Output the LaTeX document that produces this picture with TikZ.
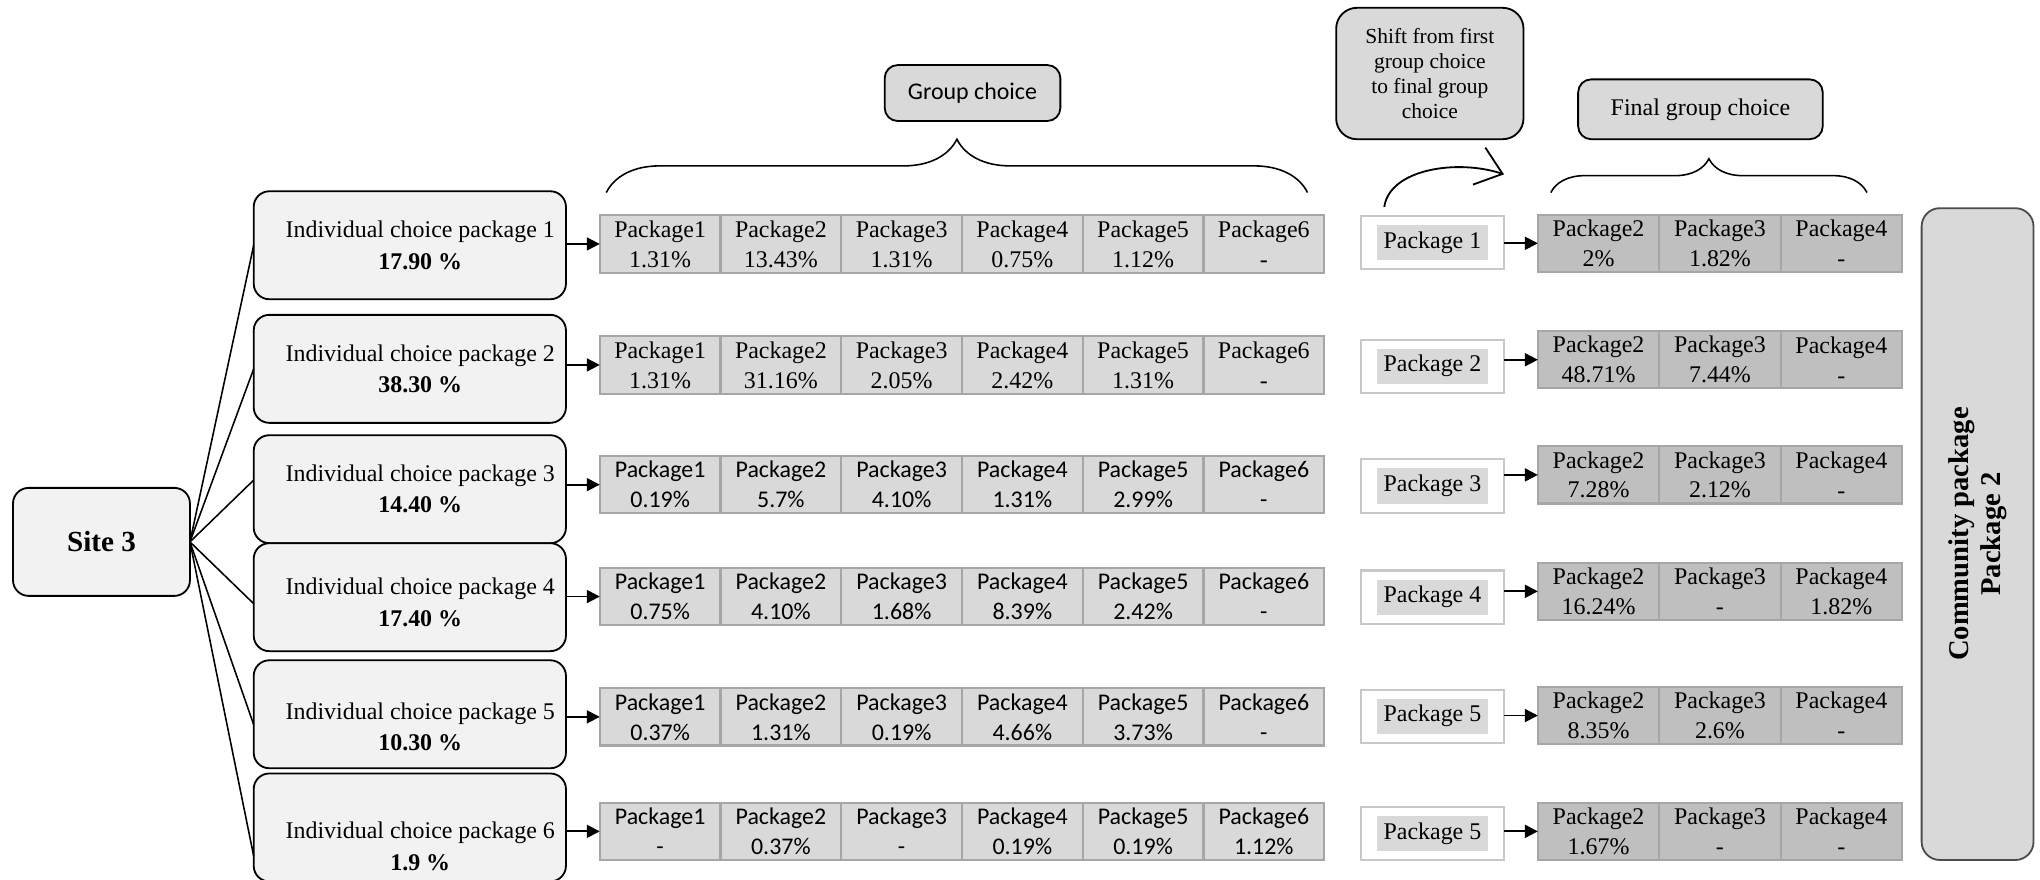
\documentclass[tikz,border=0pt]{standalone}
\usepackage{fontspec}
\setmainfont{Liberation Serif}
\newfontfamily\calibfont{Carlito}
\usetikzlibrary{arrows.meta,decorations.pathreplacing,positioning}
\definecolor{boxfill}{HTML}{F2F2F2}
\definecolor{cellfill}{HTML}{D9D9D9}
\definecolor{finalfill}{HTML}{BFBFBF}
\definecolor{cellline}{HTML}{A6A6A6}
\definecolor{midline}{HTML}{C8C8C8}
\setlength{\fboxsep}{2.6pt}
\begin{document}
\begin{tikzpicture}[
  x=0.5pt, y=-0.5pt,
  every node/.style={inner sep=0pt, outer sep=0pt},
  sitebox/.style={draw, line width=0.7pt, fill=boxfill, rounded corners=6pt, minimum width=68pt, minimum height=41.5pt, font=\fontsize{11.2}{13}\selectfont\bfseries},
  indbox/.style={draw, line width=0.7pt, fill=boxfill, rounded corners=6pt, minimum width=120pt, minimum height=41.5pt},
  indtext/.style={align=center, font=\fontsize{9.2}{12}\selectfont},
  cell/.style={draw=cellline, line width=0.8pt, fill=cellfill, minimum width=46.4pt, minimum height=22pt, align=center, font=\fontsize{9.2}{11.5}\selectfont},
  calibcell/.style={cell, font=\calibfont\fontsize{9.2}{11.5}\selectfont},
  fcell/.style={cell, fill=finalfill, minimum width=46.65pt},
  midbox/.style={draw=midline, line width=0.8pt, fill=white, minimum width=55pt, minimum height=20.5pt, font=\fontsize{9.2}{11}\selectfont},
  headbox/.style={draw, line width=0.7pt, fill=cellfill, rounded corners=5pt, align=center},
  arr/.style={-{Triangle[length=5pt,width=5pt]}, line width=0.7pt},
  link/.style={line width=0.6pt},
  grpbrace/.style={decorate, decoration={brace, amplitude=#1}, line width=0.6pt}
]
  \useasboundingbox (0,0) rectangle (1568,676);

  \node[sitebox] (site) at (78,416.5) {Site 3};

  % individual choices
  \node[indbox] (ind1) at (315,188.5) {};
  \node[indbox] (ind2) at (315,283.5) {};
  \node[indbox] (ind3) at (315,376) {};
  \node[indbox] (ind4) at (315,459) {};
  \node[indbox] (ind5) at (315,549) {};
  \node[indbox] (ind6) at (315,636) {};
  \node[indtext] (indt1) at ([xshift=4pt]ind1.center) {Individual choice package 1\\\textbf{17.90 \%}};
  \node[indtext] (indt2) at ([xshift=4pt]ind2.center) {Individual choice package 2\\\textbf{38.30 \%}};
  \node[indtext] (indt3) at ([xshift=4pt]ind3.center) {Individual choice package 3\\\textbf{14.40 \%}};
  \node[indtext] (indt4) at ([xshift=4pt,yshift=-2pt]ind4.center) {Individual choice package 4\\\textbf{17.40 \%}};
  \node[indtext] (indt5) at ([xshift=4pt,yshift=-4.75pt]ind5.center) {Individual choice package 5\\\textbf{10.30 \%}};
  \node[indtext] (indt6) at ([xshift=4pt,yshift=-7.25pt]ind6.center) {Individual choice package 6\\\textbf{1.9 \%}};

  \draw[link] (site.east) -- (ind1.west);
  \draw[link] (site.east) -- (ind2.west);
  \draw[link] (site.east) -- ([yshift=3.5pt]ind3.west);
  \draw[link] (site.east) -- ([yshift=-2.5pt]ind4.west);
  \draw[link] (site.east) -- ([yshift=-4pt]ind5.west);
  \draw[link] (site.east) -- ([yshift=-11pt]ind6.west);

  % group choice
  \node[headbox, font=\calibfont\fontsize{9.2}{11}\selectfont, minimum width=67.5pt, minimum height=21.5pt] (grp) at (747.5,71.5) {Group choice};
  \draw[grpbrace=20.5pt] (466,148) -- (1005,148);

  \node[cell] (g11) at (507.4,187.5) {Package1\\1.31\%};
  \node[cell, right=0pt of g11] (g12) {Package2\\13.43\%};
  \node[cell, right=0pt of g12] (g13) {Package3\\1.31\%};
  \node[cell, right=0pt of g13] (g14) {Package4\\0.75\%};
  \node[cell, right=0pt of g14] (g15) {Package5\\1.12\%};
  \node[cell, right=0pt of g15] (g16) {Package6\\-};

  \node[cell] (g21) at (507.4,280.5) {Package1\\1.31\%};
  \node[cell, right=0pt of g21] (g22) {Package2\\31.16\%};
  \node[cell, right=0pt of g22] (g23) {Package3\\2.05\%};
  \node[cell, right=0pt of g23] (g24) {Package4\\2.42\%};
  \node[cell, right=0pt of g24] (g25) {Package5\\1.31\%};
  \node[cell, right=0pt of g25] (g26) {Package6\\-};

  \node[calibcell] (g31) at (507.4,372.5) {Package1\\0.19\%};
  \node[calibcell, right=0pt of g31] (g32) {Package2\\5.7\%};
  \node[calibcell, right=0pt of g32] (g33) {Package3\\4.10\%};
  \node[calibcell, right=0pt of g33] (g34) {Package4\\1.31\%};
  \node[calibcell, right=0pt of g34] (g35) {Package5\\2.99\%};
  \node[calibcell, right=0pt of g35] (g36) {Package6\\-};

  \node[calibcell] (g41) at (507.4,458.5) {Package1\\0.75\%};
  \node[calibcell, right=0pt of g41] (g42) {Package2\\4.10\%};
  \node[calibcell, right=0pt of g42] (g43) {Package3\\1.68\%};
  \node[calibcell, right=0pt of g43] (g44) {Package4\\8.39\%};
  \node[calibcell, right=0pt of g44] (g45) {Package5\\2.42\%};
  \node[calibcell, right=0pt of g45] (g46) {Package6\\-};

  \node[calibcell] (g51) at (507.4,551) {Package1\\0.37\%};
  \node[calibcell, right=0pt of g51] (g52) {Package2\\1.31\%};
  \node[calibcell, right=0pt of g52] (g53) {Package3\\0.19\%};
  \node[calibcell, right=0pt of g53] (g54) {Package4\\4.66\%};
  \node[calibcell, right=0pt of g54] (g55) {Package5\\3.73\%};
  \node[calibcell, right=0pt of g55] (g56) {Package6\\-};

  \node[calibcell] (g61) at (507.4,639) {Package1\\-};
  \node[calibcell, right=0pt of g61] (g62) {Package2\\0.37\%};
  \node[calibcell, right=0pt of g62] (g63) {Package3\\-};
  \node[calibcell, right=0pt of g63] (g64) {Package4\\0.19\%};
  \node[calibcell, right=0pt of g64] (g65) {Package5\\0.19\%};
  \node[calibcell, right=0pt of g65] (g66) {Package6\\1.12\%};

  \draw[arr] (g11.west -| ind1.east) -- (g11.west);
  \draw[arr] (g21.west -| ind2.east) -- (g21.west);
  \draw[arr] (g31.west -| ind3.east) -- (g31.west);
  \draw[arr] (g41.west -| ind4.east) -- (g41.west);
  \draw[arr] (g51.west -| ind5.east) -- (g51.west);
  \draw[arr] (g61.west -| ind6.east) -- (g61.west);

  % shift to final choice
  \node[headbox, rounded corners=8pt, font=\fontsize{8.25}{9.5}\selectfont, minimum width=72pt, minimum height=50.5pt] (shift) at (1099,56.5) {Shift from first\\group choice\\to final group\\choice};
  \coordinate (shs) at (1064,159);
  \coordinate (she) at (1156,134);
  \draw[line width=0.7pt, -{Straight Barb[length=9.5pt,width=15pt]}] (shs) .. controls (1068,130) and (1120,122) .. (she);

  \node[midbox] (m1) at (1101,186.5) {\colorbox{cellfill}{Package 1}};
  \node[midbox] (m2) at (1101,281.5) {\colorbox{cellfill}{Package 2}};
  \node[midbox] (m3) at (1101,373.5) {\colorbox{cellfill}{Package 3}};
  \node[midbox] (m4) at (1101,459) {\colorbox{cellfill}{Package 4}};
  \node[midbox] (m5) at (1101,550.5) {\colorbox{cellfill}{Package 5}};
  \node[midbox] (m6) at (1101,640.5) {\colorbox{cellfill}{Package 5}};

  % final group choice
  \node[headbox, font=\fontsize{9.2}{11}\selectfont, minimum width=94pt, minimum height=23pt] (fin) at (1307,84) {Final group choice};
  \draw[grpbrace=13pt] (1192,148) -- (1435,148);

  \node[fcell] (f11) at (1228.7,187) {Package2\\2\%};
  \node[fcell, right=0pt of f11] (f12) {Package3\\1.82\%};
  \node[fcell, right=0pt of f12] (f13) {Package4\\-};

  \node[fcell] (f21) at (1228.7,276.5) {Package2\\48.71\%};
  \node[fcell, right=0pt of f21] (f22) {Package3\\7.44\%};
  \node[fcell, right=0pt of f22] (f23) {Package4\\-};

  \node[fcell] (f31) at (1228.7,365) {Package2\\7.28\%};
  \node[fcell, right=0pt of f31] (f32) {Package3\\2.12\%};
  \node[fcell, right=0pt of f32] (f33) {Package4\\-};

  \node[fcell] (f41) at (1228.7,454.5) {Package2\\16.24\%};
  \node[fcell, right=0pt of f41] (f42) {Package3\\-};
  \node[fcell, right=0pt of f42] (f43) {Package4\\1.82\%};

  \node[fcell] (f51) at (1228.7,550) {Package2\\8.35\%};
  \node[fcell, right=0pt of f51] (f52) {Package3\\2.6\%};
  \node[fcell, right=0pt of f52] (f53) {Package4\\-};

  \node[fcell] (f61) at (1228.7,639) {Package2\\1.67\%};
  \node[fcell, right=0pt of f61] (f62) {Package3\\-};
  \node[fcell, right=0pt of f62] (f63) {Package4\\-};

  \draw[arr] (f11.west -| m1.east) -- (f11.west);
  \draw[arr] (f21.west -| m2.east) -- (f21.west);
  \draw[arr] (f31.west -| m3.east) -- (f31.west);
  \draw[arr] (f41.west -| m4.east) -- (f41.west);
  \draw[arr] (f51.west -| m5.east) -- (f51.west);
  \draw[arr] (f61.west -| m6.east) -- (f61.west);

  % community package
  \node[draw=gray!60!black, line width=0.7pt, fill=cellfill, rounded corners=7pt, minimum width=43pt, minimum height=250.5pt] (comm) at (1520,410.5) {};
  \node[rotate=90, align=center, font=\fontsize{11}{12.5}\selectfont\bfseries] (commt) at (comm) {Community package\\Package 2};
\end{tikzpicture}
\end{document}
